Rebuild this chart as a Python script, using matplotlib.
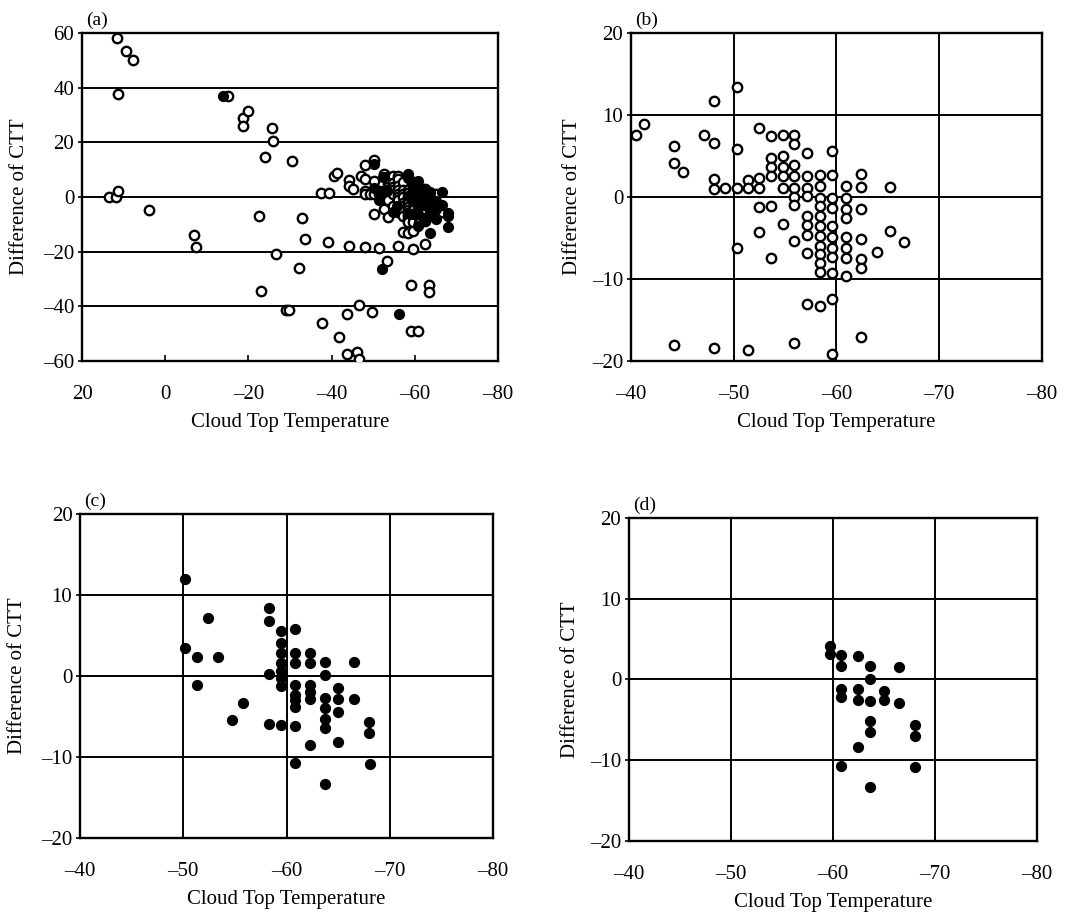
import matplotlib.pyplot as plt
from matplotlib.ticker import FuncFormatter

plt.rcParams['font.family'] = ['Liberation Serif', 'DejaVu Serif']

# panel (b): open circles
b_x = [-40.5, -41.3, -44.2, -44.2, -45.1, -47.1, -48.1, -48.1, -48.1, -48.1, -49.2,
       -50.3, -50.3, -50.3, -50.3, -51.4, -51.4, -51.4,
       -52.5, -52.5, -52.5, -52.5, -52.5,
       -53.6, -53.6, -53.6, -53.6, -53.6, -53.6,
       -44.2, -48.1,
       -54.8, -54.8, -54.8, -54.8, -54.8, -54.8,
       -55.9, -55.9, -55.9, -55.9, -55.9, -55.9, -55.9, -55.9, -55.9,
       -57.1, -57.1, -57.1, -57.1, -57.1, -57.1, -57.1, -57.1, -57.1,
       -58.4, -58.4, -58.4, -58.4, -58.4, -58.4, -58.4, -58.4, -58.4, -58.4, -58.4, -58.4,
       -59.6, -59.6, -59.6, -59.6, -59.6, -59.6, -59.6, -59.6, -59.6, -59.6, -59.6,
       -60.9, -60.9, -60.9, -60.9, -60.9, -60.9, -60.9, -60.9,
       -62.4, -62.4, -62.4, -62.4, -62.4, -62.4, -62.4,
       -63.9, -65.2, -65.2, -66.6]
b_y = [7.5, 8.9, 6.2, 4.1, 3.0, 7.6, 6.6, 11.7, 2.2, 1.0, 1.1,
       13.4, 5.8, 1.1, -6.2, 2.1, 1.1, -18.7,
       8.4, 2.3, 1.1, -1.2, -4.3,
       7.4, 4.8, 3.7, 2.5, -1.1, -7.4,
       -18.1, -18.4,
       7.6, 5.0, 3.7, 2.5, 1.1, -3.3,
       7.6, 6.4, 3.9, 2.5, 1.1, -0.05, -1.0, -5.4, -17.8,
       5.3, 2.5, 1.1, 0.1, -2.3, -3.4, -4.6, -6.8, -13.0,
       2.7, 1.3, -0.1, -1.1, -2.3, -3.6, -4.8, -6.0, -7.0, -8.0, -9.1, -13.3,
       5.6, 2.7, -0.1, -1.3, -3.6, -4.9, -6.2, -7.3, -9.3, -12.4, -19.1,
       1.3, -0.1, -1.5, -2.6, -4.9, -6.2, -7.4, -9.6,
       2.8, 1.2, -1.5, -5.1, -7.6, -8.7, -17.1,
       -6.7, 1.2, -4.1, -5.5]

# panel (c): filled circles
c_x = [-50.2, -50.2, -51.3, -51.3, -52.4, -53.4, -54.7, -55.8,
       -58.3, -58.3, -58.3, -58.3,
       -59.5, -59.5, -59.5, -59.5, -59.5, -59.5, -59.5, -59.5,
       -60.8, -60.8, -60.8, -60.8, -60.8, -60.8, -60.8, -60.8, -60.8,
       -62.3, -62.3, -62.3, -62.3, -62.3, -62.3,
       -63.7, -63.7, -63.7, -63.7, -63.7, -63.7, -63.7,
       -65.0, -65.0, -65.0, -65.0,
       -66.5, -66.5, -68.0, -68.0, -68.1]
c_y = [12.0, 3.4, 2.3, -1.1, 7.2, 2.3, -5.4, -3.3,
       8.4, 6.8, 0.3, -5.9,
       5.5, 4.1, 2.8, 1.6, 0.6, -0.2, -1.2, -6.1,
       5.8, 2.8, 1.6, -1.1, -2.3, -3.0, -3.8, -6.2, -10.7,
       2.8, 1.6, -1.1, -2.0, -2.9, -8.5,
       1.7, 0.1, -2.7, -4.0, -5.3, -6.4, -13.3,
       -1.5, -2.8, -4.4, -8.1,
       1.7, -2.9, -5.7, -7.0, -10.9]

# panel (d): filled circles
d_x = [-59.7, -59.7, -60.8, -60.8, -60.8, -60.8, -60.8,
       -62.4, -62.4, -62.4, -62.4,
       -63.6, -63.6, -63.6, -63.6, -63.6, -63.6,
       -65.0, -65.0, -66.5, -66.5, -68.0, -68.0, -68.0]
d_y = [4.2, 3.1, 3.0, 1.7, -1.2, -2.2, -10.7,
       2.9, -1.2, -2.6, -8.3,
       1.7, 0.1, -2.7, -5.2, -6.5, -13.3,
       -1.4, -2.6, 1.5, -2.9, -5.6, -7.0, -10.8]

# panel (a): points outside the ranges of (b) and (c)
a_open_x = [11.6, 9.4, 7.8, 11.4, 13.5, 11.9, 11.4, 4.0, -7.0, -7.4,
            -15.1, -18.6, -18.6, -19.8, -25.6, -25.8, -24.0, -22.6, -23.0, -26.6,
            -30.5, -29.0, -29.8, -32.2, -33.0, -33.7, -37.4, -39.3, -39.2, -37.8,
            -41.8, -43.8, -43.8, -46.0, -46.6, -46.5, -49.8, -53.2, -59.0, -59.0,
            -60.8, -63.4, -63.4]
a_open_y = [58.0, 53.5, 50.2, 37.8, -0.1, 0.0, 2.3, -4.8, -14.0, -18.2,
            37.0, 28.8, 25.8, 31.5, 25.1, 20.5, 14.5, -6.9, -34.5, -20.9,
            13.0, -41.3, -41.3, -26.0, -7.6, -15.3, 1.5, 1.5, -16.6, -46.3,
            -51.2, -42.7, -57.4, -56.7, -59.2, -39.6, -42.0, -23.5, -32.2, -49.1,
            -49.1, -32.2, -34.9]
a_filled_x = [-13.8, -52.0, -56.2]
a_filled_y = [37.1, -26.3, -42.7]

panels = ['(a)', '(b)', '(c)', '(d)']
a_xticks = [20, 0, -20, -40, -60, -80]
a_yticks = [-60, -40, -20, 0, 20, 40, 60]
xticks = [-40, -50, -60, -70, -80]
yticks = [-20, -10, 0, 10, 20]

fig = plt.figure(figsize=(10.89, 9.16), dpi=100)
rects = [[0.0753, 0.606, 0.382, 0.358],
         [0.5794, 0.606, 0.3774, 0.358],
         [0.0735, 0.0852, 0.3792, 0.3537],
         [0.5776, 0.0819, 0.3747, 0.3526]]
axes = [fig.add_axes(r) for r in rects]

dash = FuncFormatter(lambda v, p: f'{v:g}'.replace('-', '\u2013'))
open_kw = dict(s=46, facecolors='white', edgecolors='black', linewidths=1.7, zorder=3)
fill_kw = dict(s=50, c='black', edgecolors='black', linewidths=1.0, zorder=4)

# (a)
ax = axes[0]
ax.scatter(b_x + a_open_x, b_y + a_open_y, **open_kw)
ax.scatter(c_x + a_filled_x, c_y + a_filled_y, **fill_kw)
ax.set_xlim(20, -80)
ax.set_ylim(-60, 60)
ax.set_xticks(a_xticks)
ax.set_yticks(a_yticks)
ax.grid(axis='y', color='black', linewidth=1.4)

# (b)
axes[1].scatter(b_x, b_y, **open_kw)

# (c), (d)
axes[2].scatter(c_x, c_y, **fill_kw)
axes[3].scatter(d_x, d_y, **fill_kw)

for ax in axes[1:]:
    ax.set_xlim(-40, -80)
    ax.set_ylim(-20, 20)
    ax.set_xticks(xticks)
    ax.set_yticks(yticks)
    ax.grid(color='black', linewidth=1.4)

for i, (ax, name) in enumerate(zip(axes, panels)):
    ax.set_axisbelow(True)
    for sp in ax.spines.values():
        sp.set_linewidth(1.7)
    ax.tick_params(width=1.2, labelsize=15)
    ax.tick_params(axis='x', direction='in', length=4, pad=17)
    ax.tick_params(axis='y', direction='inout', length=6, pad=2.5)
    ax.xaxis.set_major_formatter(dash)
    ax.yaxis.set_major_formatter(dash)
    ax.set_xlabel('Cloud Top Temperature', fontsize=15, labelpad=7)
    ax.set_ylabel('Difference of CTT', fontsize=15, labelpad=10 if i % 2 == 0 else 7)
    ax.text(0.01, 1.012, name, transform=ax.transAxes, fontsize=14,
            ha='left', va='bottom')

plt.savefig('out.png', dpi=100)
